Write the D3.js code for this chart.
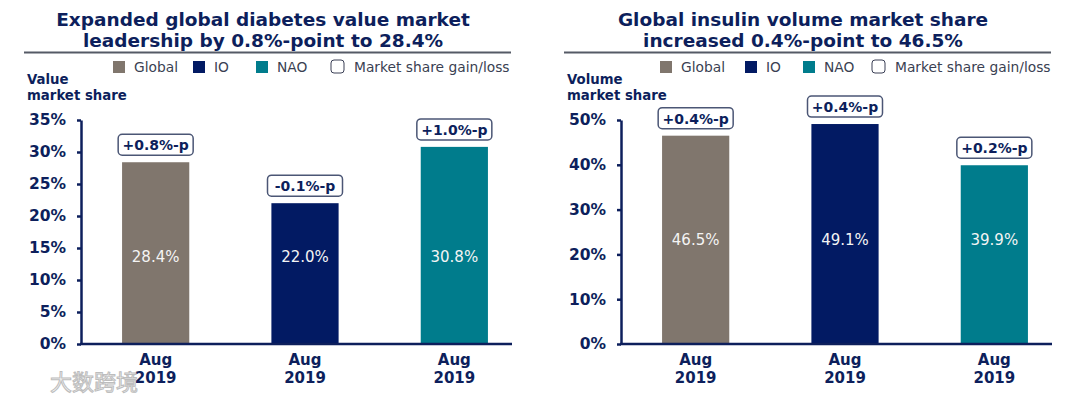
<!DOCTYPE html>
<html>
<head>
<meta charset="utf-8">
<script src="https://cdn.jsdelivr.net/npm/d3@7"></script>
<style>
  body { margin: 0; background: #fff; }
  svg { display: block; font-family: "DejaVu Sans", Verdana, sans-serif; }
</style>
</head>
<body>
<svg></svg>
<script>
// constants
const WIDTH = 1080;
const HEIGHT = 399;
const NAVY = '#0d1f5c';

// data
const categories = ['Global', 'IO', 'NAO'];
const colors = ['#80766d', '#021a63', '#007c8c'];
const periodLines = ['Aug', '2019'];
const legendLabels = ['Global', 'IO', 'NAO', 'Market share gain/loss'];

const valueTitle = ['Expanded global diabetes value market', 'leadership by 0.8%-point to 28.4%'];
const valueAxisTitle = ['Value', 'market share'];
const valueShares = [28.4, 22.0, 30.8];
const valueChanges = ['+0.8%-p', '-0.1%-p', '+1.0%-p'];
const valueTicks = [0, 5, 10, 15, 20, 25, 30, 35];

const volumeTitle = ['Global insulin volume market share', 'increased 0.4%-point to 46.5%'];
const volumeAxisTitle = ['Volume', 'market share'];
const volumeShares = [46.5, 49.1, 39.9];
const volumeChanges = ['+0.4%-p', '+0.4%-p', '+0.2%-p'];
const volumeTicks = [0, 10, 20, 30, 40, 50];

const svg = d3.select('svg')
    .attr('width', WIDTH)
    .attr('height', HEIGHT);

function panel(opt){
    const g = svg.append('g').attr('transform', `translate(${opt.left}, 0)`);
    const axisX = 81;   // y axis position inside panel
    const top = 120, bottom = 344;

    // title
    g.append('text')
        .attr('text-anchor', 'middle')
        .attr('font-weight', 'bold')
        .attr('font-size', 18.5)
        .attr('fill', NAVY)
        .selectAll('tspan')
        .data(opt.title).join('tspan')
        .attr('x', opt.titleX)
        .attr('y', (d, i) => 26 + i * 21)
        .text(d => d);

    g.append('line')
        .attr('x1', 24).attr('x2', 511)
        .attr('y1', 52.5).attr('y2', 52.5)
        .attr('stroke', '#555a66')
        .attr('stroke-width', 2);

    // legend
    const legend = g.append('g').attr('transform', 'translate(0, 67)');
    const legendX = opt.legendX;
    legend.selectAll('rect')
        .data(legendLabels).join('rect')
        .attr('x', (d, i) => legendX[i])
        .attr('y', (d, i) => i == 3 ? -7 : -6)
        .attr('width', (d, i) => i == 3 ? 13 : 12)
        .attr('height', (d, i) => i == 3 ? 13 : 12)
        .attr('rx', (d, i) => i == 3 ? 3 : 0)
        .attr('fill', (d, i) => i == 3 ? '#fff' : colors[i])
        .attr('stroke', (d, i) => i == 3 ? '#3a3f55' : 'none')
        .attr('stroke-width', 1);
    legend.selectAll('text')
        .data(legendLabels).join('text')
        .attr('x', (d, i) => legendX[i] + (i == 3 ? 23 : 21))
        .attr('y', 5)
        .attr('font-size', 13.8)
        .attr('fill', '#3a3f52')
        .text(d => d);

    // axis title
    g.append('text')
        .attr('font-weight', 'bold')
        .attr('font-size', 13.3)
        .attr('fill', NAVY)
        .selectAll('tspan')
        .data(opt.axisTitle).join('tspan')
        .attr('x', 27)
        .attr('y', (d, i) => 84 + i * 16)
        .text(d => d);

    // scales
    const x = d3.scaleBand()
        .domain(categories)
        .range([axisX, axisX + 448])
        .paddingInner(0.55)
        .paddingOuter(0.275);
    const y = d3.scaleLinear()
        .domain([0, opt.max])
        .range([bottom, top]);

    // bars
    g.selectAll('rect.bar')
        .data(opt.shares).join('rect')
        .attr('class', 'bar')
        .attr('x', (d, i) => x(categories[i]))
        .attr('y', d => y(d))
        .attr('width', x.bandwidth())
        .attr('height', d => y(0) - y(d))
        .attr('fill', (d, i) => colors[i]);

    // values in bars
    g.selectAll('text.val')
        .data(opt.shares).join('text')
        .attr('class', 'val')
        .attr('x', (d, i) => x(categories[i]) + x.bandwidth() / 2)
        .attr('y', y(opt.labelAt) + 5)
        .attr('text-anchor', 'middle')
        .attr('font-size', 15)
        .attr('fill', '#f4f4f4')
        .text(d => d.toFixed(1) + '%');

    // change boxes
    const boxes = g.selectAll('g.box')
        .data(opt.changes).join('g')
        .attr('class', 'box')
        .attr('transform', (d, i) => `translate(${x(categories[i]) + x.bandwidth() / 2}, ${y(opt.shares[i]) - 17})`);
    boxes.append('rect')
        .attr('x', -37.5).attr('y', -11)
        .attr('width', 75).attr('height', 21)
        .attr('rx', 4)
        .attr('fill', '#fff')
        .attr('stroke', '#4b5675')
        .attr('stroke-width', 1.5);
    boxes.append('text')
        .attr('text-anchor', 'middle')
        .attr('y', 5)
        .attr('font-size', 14)
        .attr('font-weight', 'bold')
        .attr('fill', NAVY)
        .text(d => d);

    // y axis
    const yAxis = g.append('g')
        .attr('transform', `translate(${axisX}, 0)`)
        .call(d3.axisLeft(y).tickValues(opt.ticks).tickSize(4).tickSizeOuter(0).tickPadding(11).tickFormat(d => d + '%'));
    yAxis.select('.domain').attr('stroke', NAVY).attr('stroke-width', 2.5);
    yAxis.selectAll('.tick line').attr('stroke', NAVY).attr('stroke-width', 2.5);
    yAxis.selectAll('.tick text')
        .attr('fill', NAVY)
        .attr('font-size', 15.5)
        .attr('font-weight', 'bold')
        .attr('font-family', '"DejaVu Sans", Verdana, sans-serif');

    // x axis line
    g.append('line')
        .attr('x1', axisX - 1).attr('x2', 512)
        .attr('y1', y(0)).attr('y2', y(0))
        .attr('stroke', NAVY)
        .attr('stroke-width', 2.5);

    // x labels
    g.append('g').selectAll('text')
        .data(categories).join('text')
        .attr('text-anchor', 'middle')
        .attr('font-size', 15)
        .attr('font-weight', 'bold')
        .attr('fill', NAVY)
        .selectAll('tspan')
        .data(d => periodLines.map(t => ({ c: d, t }))).join('tspan')
        .attr('x', d => x(d.c) + x.bandwidth() / 2)
        .attr('y', (d, i) => 365 + i * 18)
        .text(d => d.t);
}

panel({
    left: 0, title: valueTitle, titleX: 263, axisTitle: valueAxisTitle,
    shares: valueShares, changes: valueChanges, ticks: valueTicks, max: 35,
    labelAt: 13.6, legendX: [113, 193, 256, 331]
});
panel({
    left: 540, title: volumeTitle, titleX: 263, axisTitle: volumeAxisTitle,
    shares: volumeShares, changes: volumeChanges, ticks: volumeTicks, max: 50,
    labelAt: 23.2, legendX: [120, 205, 263, 332]
});

// watermark
svg.append('text')
    .attr('x', 50).attr('y', 390)
    .attr('font-family', '"Noto Sans CJK SC", sans-serif')
    .attr('font-size', 22)
    .attr('fill', '#f7f7f7')
    .attr('stroke', '#bdbdbd')
    .attr('stroke-width', 1)
    .text('大数跨境');
</script>
</body>
</html>
